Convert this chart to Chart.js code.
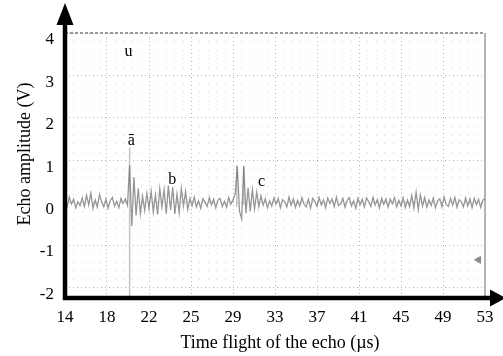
<!DOCTYPE html>
<html><head><meta charset="utf-8">
<script src="https://cdn.jsdelivr.net/npm/chart.js@4"></script>
<style>html,body{margin:0;padding:0;background:#fff}canvas{display:block}</style>
</head><body>
<canvas id="c" width="503" height="356"></canvas>
<script>
// ---- data ----
const xTickValues = [14, 17.9, 21.8, 25.7, 29.6, 33.5, 37.4, 41.3, 45.2, 49.1, 53];
const xTickLabels = ['14','18','22','25','29','33','37','41','45','49','53'];
const yTickValues = [-2, -1, 0, 1, 2, 3, 4];
const xTitle = 'Time flight of the echo (µs)';
const yTitle = 'Echo amplitude (V)';
const sampleStart = 14;   // µs
const sampleStep = 0.2;   // µs
const echoV = [
  0.04,-0.1,0.13,-0.03,0.08,-0.12,0.02,-0.07,0.11,-0.09,
  0.17,-0.05,0.22,-0.14,0.06,-0.11,0.19,0.02,-0.1,0.08,
  -0.13,0.05,0.12,-0.08,0.03,-0.12,0.1,-0.02,0.09,-0.06,
  0.88,-0.55,0.6,-0.3,0.34,-0.26,0.15,-0.18,0.22,
  -0.14,0.27,-0.22,0.18,-0.28,0.33,-0.1,0.3,-0.26,0.4,-0.18,
  0.36,-0.27,0.2,-0.24,0.34,-0.08,0.26,-0.16,0.1,-0.07,
  0.13,-0.1,0.04,-0.13,0.09,0.01,-0.09,0.12,-0.05,0.08,
  -0.12,0.06,0.1,-0.09,0.03,-0.11,0.12,-0.04,0.07,0.2,
  0.85,-0.2,-0.38,0.85,-0.25,0.35,-0.2,0.3,-0.15,0.25,
  -0.1,0.16,-0.06,0.09,-0.12,0.04,-0.08,0.11,-0.03,0.1,
  -0.12,0.07,0.02,-0.1,0.13,-0.06,0.09,-0.11,0.05,-0.08,
  0.12,-0.04,-0.1,0.08,-0.13,0.1,0.03,-0.09,0.12,-0.06,
  0.06,-0.12,0.11,-0.02,0.09,-0.1,0.13,-0.07,-0.03,0.1,
  -0.11,0.05,0.12,-0.08,0.04,-0.13,0.1,-0.05,0.08,-0.1,
  0.11,0.02,-0.09,0.13,-0.06,0.07,-0.12,0.1,-0.04,0.09,
  -0.11,0.08,-0.03,0.12,-0.1,0.05,-0.08,0.11,-0.12,0.06,
  -0.1,0.17,-0.13,0.25,-0.16,0.18,-0.08,0.12,-0.11,0.06,
  -0.07,0.11,-0.12,0.04,0.09,-0.1,0.13,-0.05,-0.09,0.1,
  -0.06,0.12,-0.11,0.07,0.02,-0.1,0.11,-0.08,0.09,-0.12,
  0.1,-0.05,0.08,-0.11,0.06,0.09
];
const spikeT = [20.0, 20.0, 20.0, 29.95, 29.95, 29.95, 30.6, 30.6];
const spikeV = [1.3, -2.2, null, -0.1, 0.88, null, -0.05, 0.88];
const markText = ['u', 'ā', 'b', 'c'];
const markT = [19.9, 20.15, 23.95, 32.25];
const markV = [3.55, 1.45, 0.53, 0.49];
const groundT = [52.4];
const groundV = [-1.35];

// ---- build datasets ----
const traceData = echoV.map((v, i) => ({x: +(sampleStart + i * sampleStep).toFixed(2), y: v}));
const spikeData = spikeT.map((t, i) => ({x: t, y: spikeV[i]}));
const groundData = groundT.map((t, i) => ({x: t, y: groundV[i]}));

const FONT = '"Liberation Serif", "Times New Roman", serif';

const decor = {
  id: 'decor',
  beforeDatasetsDraw(chart) {
    const {ctx, chartArea: a, scales: {x, y}} = chart;
    ctx.save();
    // minor dot lattice
    ctx.fillStyle = '#d6d6d6';
    for (let i = 0; i < xTickValues.length - 1; i++) {
      const p0 = x.getPixelForValue(xTickValues[i]);
      const p1 = x.getPixelForValue(xTickValues[i + 1]);
      for (let k = 1; k < 5; k++) {
        const px = p0 + (p1 - p0) * k / 5;
        for (let j = 0; j < yTickValues.length - 1; j++) {
          const q0 = y.getPixelForValue(yTickValues[j]);
          const q1 = y.getPixelForValue(yTickValues[j + 1]);
          for (let m = 1; m < 5; m++) {
            const py = q0 + (q1 - q0) * m / 5;
            ctx.fillRect(Math.round(px), Math.round(py), 1, 1);
          }
        }
      }
    }
    // top border (dashed gray) and right border
    ctx.strokeStyle = '#9a9a9a';
    ctx.lineWidth = 2;
    ctx.setLineDash([3, 2]);
    ctx.beginPath();
    ctx.moveTo(a.left, a.top);
    ctx.lineTo(a.right, a.top);
    ctx.stroke();
    ctx.setLineDash([]);
    ctx.strokeStyle = '#b4b4b4';
    ctx.beginPath();
    ctx.moveTo(a.right, a.top);
    ctx.lineTo(a.right, a.bottom);
    ctx.stroke();
    ctx.restore();
  },
  afterDatasetsDraw(chart) {
    const {ctx, scales: {x, y}} = chart;
    ctx.save();
    ctx.fillStyle = '#000';
    ctx.font = '16px ' + FONT;
    ctx.textAlign = 'center';
    ctx.textBaseline = 'middle';
    markText.forEach((t, i) => {
      ctx.fillText(t, x.getPixelForValue(markT[i]), y.getPixelForValue(markV[i]));
    });
    ctx.restore();
  },
  afterDraw(chart) {
    const {ctx, chartArea: a} = chart;
    ctx.save();
    // axis titles
    ctx.fillStyle = '#000';
    ctx.font = '18px ' + FONT;
    ctx.textAlign = 'center';
    ctx.textBaseline = 'middle';
    ctx.fillText(xTitle, 280, 343);
    ctx.save();
    ctx.translate(25, 154);
    ctx.rotate(-Math.PI / 2);
    ctx.fillText(yTitle, 0, 0);
    ctx.restore();
    // axes with arrows
    ctx.strokeStyle = '#000';
    ctx.lineWidth = 4.5;
    ctx.beginPath();
    ctx.moveTo(a.left, a.bottom + 2);
    ctx.lineTo(a.left, 20);
    ctx.stroke();
    ctx.beginPath();
    ctx.moveTo(a.left, 3);
    ctx.lineTo(a.left - 8.5, 25);
    ctx.lineTo(a.left + 8.5, 25);
    ctx.closePath();
    ctx.fill();
    ctx.beginPath();
    ctx.moveTo(a.left - 2, a.bottom);
    ctx.lineTo(494, a.bottom);
    ctx.stroke();
    ctx.beginPath();
    ctx.moveTo(506, a.bottom);
    ctx.lineTo(490, a.bottom - 8.5);
    ctx.lineTo(490, a.bottom + 8.5);
    ctx.closePath();
    ctx.fill();
    ctx.restore();
  }
};

new Chart(document.getElementById('c'), {
  type: 'line',
  data: {
    datasets: [
      {data: traceData, borderColor: 'rgba(105,105,105,0.7)', borderWidth: 1.3, pointRadius: 0, tension: 0, order: 1},
      {data: spikeData, borderColor: '#c4c4c4', borderWidth: 1.5, pointRadius: 0, spanGaps: false, order: 2},
      {type: 'scatter', data: groundData, pointStyle: 'triangle', rotation: 270, radius: 4,
       backgroundColor: '#8a8a8a', borderColor: '#8a8a8a', showLine: false, order: 0}
    ]
  },
  options: {
    responsive: false,
    animation: false,
    devicePixelRatio: 1,
    layout: {padding: {top: 33, right: 18, bottom: 0, left: 0}},
    plugins: {legend: {display: false}, tooltip: {enabled: false}},
    scales: {
      x: {
        type: 'linear', min: 14, max: 53,
        afterBuildTicks: s => { s.ticks = xTickValues.map(v => ({value: v})); },
        afterFit: s => { s.height = 58; },
        ticks: {
          callback: (v, i) => xTickLabels[i],
          color: '#000', font: {family: FONT, size: 17}, padding: 9, maxRotation: 0, autoSkip: false
        },
        grid: {color: '#b5b5b5', lineWidth: 1, drawTicks: false},
        border: {display: false, dash: [1, 3]},
        title: {display: false}
      },
      y: {
        type: 'linear', min: -2.25, max: 4,
        afterBuildTicks: s => { s.ticks = yTickValues.map(v => ({value: v})); },
        afterFit: s => { s.width = 65; },
        ticks: {
          callback: v => String(v),
          color: '#000', font: {family: FONT, size: 17}, padding: 11, labelOffset: 7
        },
        grid: {color: '#b5b5b5', lineWidth: 1, drawTicks: false},
        border: {display: false, dash: [1, 3]},
        title: {display: false}
      }
    }
  },
  plugins: [decor]
});
</script>
</body></html>
